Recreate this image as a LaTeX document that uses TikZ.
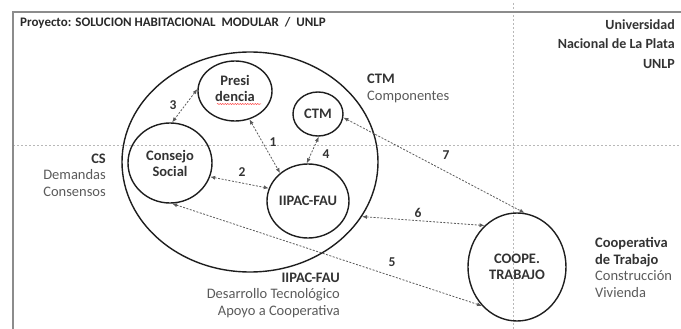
\documentclass[tikz,border=0pt]{standalone}
\usepackage{fontspec}
\setmainfont{Carlito}
\usetikzlibrary{shapes.geometric,arrows.meta,decorations.pathmorphing}
\definecolor{ink}{HTML}{1E1E1E}
\definecolor{lab}{HTML}{333333}
\definecolor{txt}{HTML}{5A5A5A}
\definecolor{framec}{HTML}{8C8C8C}
\definecolor{guidec}{HTML}{B8B8B8}
\definecolor{linkc}{HTML}{5A5A5A}
\begin{document}
\begin{tikzpicture}[x=1pt,y=-1pt,
  circ/.style={draw=ink, line width=1.4pt, ellipse, inner sep=0pt},
  clabel/.style={font=\fontsize{14.5}{16}\selectfont\bfseries, text=lab, align=center, inner sep=0pt},
  link/.style={draw=linkc, line width=0.8pt, dash pattern=on 2pt off 1.5pt,
    {Latex[length=5pt,width=4pt]}-{Latex[length=5pt,width=4pt]}},
  num/.style={font=\fontsize{13.5}{14}\selectfont\bfseries, text=lab, inner sep=0pt},
  info/.style={font=\fontsize{14.5}{16.5}\selectfont, text=txt, inner sep=0pt},
  framel/.style={draw=framec, line width=1.1pt},
  guide/.style={draw=guidec, line width=0.7pt, dash pattern=on 2pt off 2pt},
]
\useasboundingbox (0,0) rectangle (681,329);

% guide lines and frame
\coordinate (g1) at (513,3);   \coordinate (g2) at (513,329);
\coordinate (g3) at (13,145);  \coordinate (g4) at (681,145);
\draw[guide] (g1) -- (g2);
\draw[guide] (g3) -- (g4);
\coordinate (f1) at (13,329); \coordinate (f2) at (13,12); \coordinate (f3) at (681,12);
\draw[framel] (f1) -- (f2) -- (f3);

% circles
\node[circ, minimum width=256pt, minimum height=220pt] (B) at (250,162) {};
\node[circ, minimum width=74pt, minimum height=60pt,
  label={[clabel, yshift=3pt]center:Presi\\dencia}] (P) at (235,91) {};
\node[circ, minimum width=84pt, minimum height=80pt,
  label={[clabel]center:Consejo\\Social}] (C) at (170,163) {};
\node[circ, minimum width=50pt, minimum height=44pt,
  label={[clabel]center:CTM}] (T) at (318,114) {};
\node[circ, minimum width=82pt, minimum height=74pt,
  label={[clabel]center:IIPAC-FAU}] (I) at (308,201) {};
\node[circ, minimum width=98pt, minimum height=108pt,
  label={[clabel]center:COOPE.\\TRABAJO}] (K) at (517,267) {};

% spell-check squiggle
\coordinate (s1) at (217,104); \coordinate (s2) at (261,104);
\draw[red!80, line width=0.5pt, decorate,
  decoration={snake, amplitude=0.5pt, segment length=2.5pt}] (s1) -- (s2);

% connectors
\draw[link] (P.-63) -- (I.135);
\draw[link] (C.-19) -- (I.162);
\draw[link] (P.177) -- (C.87);
\draw[link] (T.-88) -- (I.92);
\draw[link] (C.-87) -- (K.228);
\draw[link] (B.-26.6) -- (K.128);
\draw[link] (T.-8) -- (K.82);

% numbers
\node[num] (n1) at (273,142) {1};
\node[num] (n2) at (242,172) {2};
\node[num] (n3) at (173,105) {3};
\node[num] (n4) at (326,154) {4};
\node[num] (n5) at (392,262) {5};
\node[num] (n6) at (418,213) {6};
\node[num] (n7) at (446,155) {7};

% texts
\node[font=\fontsize{13}{15}\selectfont\bfseries, text=lab!80!black, anchor=base west, inner sep=0pt]
  (title) at (20,27) {Proyecto: SOLUCION HABITACIONAL\ \ MODULAR\ \ /\ \ UNLP};
\node[font=\fontsize{14}{19.5}\selectfont\bfseries, text=lab, align=right, anchor=east, inner sep=0pt]
  (unlp) at (675,44) {Universidad\\Nacional de La Plata\\UNLP};
\node[info, align=left, anchor=west] (ctmt) at (367,88.5)
  {\textcolor{lab}{\bfseries CTM}\\Componentes};
\node[info, align=right, anchor=east] (cst) at (106,175)
  {\textcolor{lab}{\bfseries CS}\\Demandas\\Consensos};
\node[info, align=right, anchor=east] (iit) at (340,295)
  {\textcolor{lab}{\bfseries IIPAC-FAU}\\Desarrollo Tecnológico\\Apoyo a Cooperativa};
\node[info, align=left, anchor=west] (coot) at (595,267.5)
  {\textcolor{lab}{\bfseries Cooperativa}\\\textcolor{lab}{\bfseries de Trabajo}\\Construcción\\Vivienda};
\end{tikzpicture}
\end{document}
